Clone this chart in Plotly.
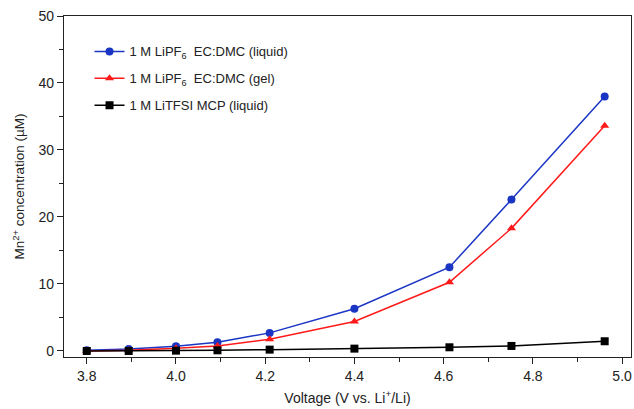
import plotly.graph_objects as go

voltage = [3.80, 3.894, 4.00, 4.093, 4.21, 4.40, 4.613, 4.752, 4.961]
liquid_lipf6 = [0.1, 0.3, 0.7, 1.3, 2.7, 6.3, 12.5, 22.6, 38.0]
gel_lipf6 = [0.0, 0.1, 0.4, 0.75, 1.75, 4.4, 10.25, 18.3, 33.6]
litfsi_mcp = [0.0, 0.0, 0.05, 0.1, 0.2, 0.35, 0.55, 0.75, 1.45]

names = ["1 M LiPF<sub>6</sub>  EC:DMC (liquid)",
         "1 M LiPF<sub>6</sub>  EC:DMC (gel)",
         "1 M LiTFSI MCP (liquid)"]
colors = ["#1a35c4", "#ff1a1a", "#000000"]
symbols = ["circle", "triangle-up", "square"]
series = [liquid_lipf6, gel_lipf6, litfsi_mcp]

fig = go.Figure()
for i, (n, c, s, y) in enumerate(zip(names, colors, symbols, series)):
    fig.add_trace(go.Scatter(x=voltage, y=y, name=n, mode="lines+markers",
                             legendgroup=f"g{i}",
                             line=dict(color=c, width=1.5),
                             marker=dict(symbol=s, size=8, color=c)))

font = "Liberation Sans, Arial, sans-serif"
fig.update_layout(
    width=634, height=409,
    margin=dict(l=64, r=3, t=16, b=52),
    paper_bgcolor="white", plot_bgcolor="white",
    font=dict(family=font, size=14, color="#222"),
    legend=dict(x=0.045, y=0.94, xanchor="left", yanchor="top",
                font=dict(size=13), bgcolor="rgba(0,0,0,0)",
                itemwidth=30, tracegroupgap=7),
    xaxis=dict(range=[3.749, 5.02], tickvals=[3.8, 4.0, 4.2, 4.4, 4.6, 4.8, 5.0],
               ticktext=["3.8", "4.0", "4.2", "4.4", "4.6", "4.8", "5.0"],
               ticks="outside", ticklen=6, tickcolor="#222",
               minor=dict(dtick=0.1, tick0=3.8, ticks="outside", ticklen=4, tickcolor="#222"),
               showline=True, linecolor="#222", linewidth=1.2, mirror=True,
               showgrid=False, zeroline=False,
               title=dict(text="Voltage (V vs. Li<sup>+</sup>/Li)", font=dict(size=14), standoff=10)),
    yaxis=dict(range=[-0.9, 50], tickvals=[0, 10, 20, 30, 40, 50],
               ticks="outside", ticklen=6, tickcolor="#222",
               minor=dict(dtick=5, tick0=0, ticks="outside", ticklen=4, tickcolor="#222"),
               showline=True, linecolor="#222", linewidth=1.2, mirror=True,
               showgrid=False, zeroline=False,
               title=dict(text="Mn<sup>2+</sup> concentration (µM)", font=dict(size=13.5), standoff=10)),
)
fig.write_html("out.html", config={"displayModeBar": False},
               post_script="document.body.style.margin='0';")
